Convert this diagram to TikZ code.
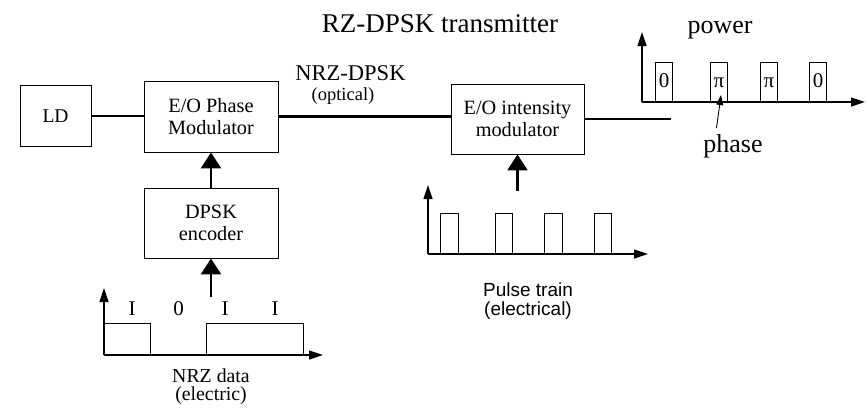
\documentclass[tikz,border=0pt]{standalone}
\usepackage{fontspec}
\setmainfont{Liberation Serif}
\newfontfamily\sansf{Liberation Sans}
\usetikzlibrary{arrows.meta}
\begin{document}
\begin{tikzpicture}[x=1pt,y=-1pt,
  blk/.style={draw, line width=0.9pt, inner sep=0pt, align=center, font=\fontsize{20.3}{21.5}\selectfont},
  conn/.style={line width=2.6pt},
  bigarrow/.style={line width=2.6pt, -{Triangle[length=16pt,width=20pt]}},
  axis/.style={line width=1.2pt, -{Triangle[length=14pt,width=9pt]}},
  pulse/.style={line width=0.9pt},
  txt/.style={inner sep=0pt, anchor=base},
  small/.style={txt, font=\fontsize{21}{22}\selectfont},
  phasearrow/.style={line width=0.9pt, -{Triangle[length=10pt,width=7pt]}}]
\useasboundingbox (0,0) rectangle (867,410);

% title
\node[txt, font=\fontsize{27}{29}\selectfont] (title) at (440,32) {RZ-DPSK transmitter};

% blocks
\node[blk, minimum width=71pt, minimum height=61pt, font=\fontsize{19.5}{21}\selectfont] (ld) at (55.5,116) {LD};
\node[blk, minimum width=134pt, minimum height=71pt] (pm) at (211,116.5) {E/O Phase\\Modulator};
\node[blk, minimum width=134pt, minimum height=70pt] (enc) at (211,223) {DPSK\\encoder};
\node[blk, minimum width=133pt, minimum height=70pt] (im) at (517.5,119) {E/O intensity\\modulator};

% optical label
\node[txt, font=\fontsize{22.5}{24}\selectfont] (nrzdpsk) at (350.5,80) {NRZ-DPSK};
\node[txt, font=\fontsize{18.5}{20}\selectfont] (optical) at (343,100) {(optical)};

% connectors
\coordinate (out) at (671,121);
\draw[conn] (ld.east) -- (ld.east -| pm.west);
\draw[conn] (pm.east) -- (pm.east -| im.west);
\draw[conn] (im.east) -- (im.east -| out);
\draw[bigarrow] (enc.north) -- (pm.south);
\coordinate (nrzsrc) at (211,297);
\draw[bigarrow] (nrzsrc) -- (enc.south);
\coordinate (ptsrc) at (517.5,191);
\draw[bigarrow] (ptsrc) -- (im.south);

% NRZ data plot
\coordinate (o1) at (104,355);
\draw[axis] (o1) -- (104,288);
\draw[axis] (o1) -- (323,355);
\draw[pulse] (104,323) -- (150,323) -- (150,355);
\draw[pulse] (206,355) -- (206,323) -- (303,323) -- (303,355);
\node[small] (b1) at (132,315) {I};
\node[small] (b2) at (178.5,315) {0};
\node[small] (b3) at (225,315) {I};
\node[small] (b4) at (275,315) {I};
\node[txt, font=\fontsize{19.8}{21}\selectfont] (nrzl1) at (211,382) {NRZ data};
\node[txt, font=\fontsize{19.8}{21}\selectfont] (nrzl2) at (211,400) {(electric)};

% Pulse train plot
\coordinate (o2) at (428,254);
\draw[axis] (o2) -- (428,185);
\draw[axis] (o2) -- (648,254);
\foreach \a/\b in {440/458,495/512,544/562,594/611}
  \draw[pulse] (\a,254) -- (\a,213) -- (\b,213) -- (\b,254);
\node[txt, font=\sansf\fontsize{19}{21}\selectfont] (pt1) at (528,296) {Pulse train};
\node[txt, font=\sansf\fontsize{19}{21}\selectfont] (pt2) at (528,315) {(electrical)};

% RZ-DPSK output plot
\coordinate (o3) at (642,102);
\draw[axis] (o3) -- (642,32);
\draw[axis] (o3) -- (865,102);
\foreach \a/\b/\s [count=\i] in {655/672/0,710/727/π,760/777/π,809/826/0}{
  \draw[pulse] (\a,102) rectangle (\b,62);
  \node[small] (p\i) at ({(\a+\b)/2+0.5},87) {\s};
}
\node[txt, font=\fontsize{26}{28}\selectfont] (power) at (720,33) {power};
\node[txt, font=\fontsize{26}{28}\selectfont] (phase) at (733,152) {phase};
\coordinate (phs) at (716.5,128);
\coordinate (pht) at (721,95);
\draw[phasearrow] (phs) -- (pht);
\end{tikzpicture}
\end{document}
